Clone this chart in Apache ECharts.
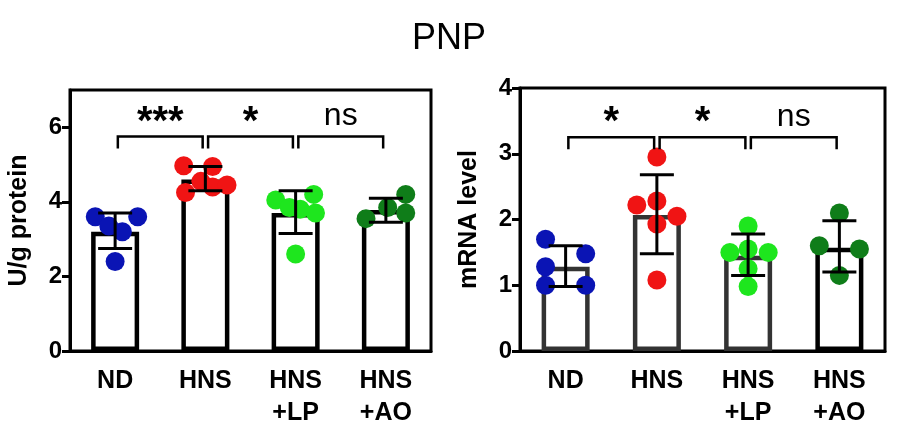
<!DOCTYPE html>
<html><head><meta charset="utf-8">
<script src="https://cdn.jsdelivr.net/npm/echarts@6/dist/echarts.min.js"></script>
<style>html,body{margin:0;background:#fff}#c{width:898px;height:442px}</style>
</head><body><div id="c"></div>
<script>
var categories = ['ND', 'HNS', 'HNS\n+LP', 'HNS\n+AO'];
var colors = ['#0a14b4', '#f01414', '#1ee61e', '#0f7d19'];

// left: U/g protein
var leftMean = [3.2, 4.6, 3.7, 3.78];
var leftErr = [[2.75, 3.7], [4.3, 4.95], [3.15, 4.3], [3.45, 4.1]];
var leftPts = [
  [[-0.22, 3.6], [-0.07, 3.35], [0.08, 3.2], [0.25, 3.6], [0, 2.4]],
  [[-0.22, 4.25], [-0.24, 4.97], [-0.05, 4.55], [0.08, 4.95], [0.08, 4.4], [0.24, 4.45]],
  [[-0.22, 4.05], [-0.07, 3.85], [0.2, 4.2], [0.22, 3.7], [0.05, 3.8], [0, 2.6]],
  [[-0.22, 3.55], [0.02, 3.85], [0.22, 4.2], [0.22, 3.7]]
];
var leftSig = [[0, 1, 5.75, '***'], [1, 2, 5.75, '*'], [2, 3, 5.75, 'ns']];

// right: mRNA level
var rightMean = [1.28, 2.07, 1.45, 1.57];
var rightErr = [[0.98, 1.6], [1.48, 2.68], [1.15, 1.78], [1.2, 1.98]];
var rightPts = [
  [[-0.22, 1.7], [-0.22, 1.28], [-0.22, 1.0], [0.22, 1.48], [0.22, 1.0]],
  [[-0.22, 2.22], [0, 2.28], [0, 1.93], [0.22, 2.05], [0, 2.95], [0, 1.08]],
  [[-0.2, 1.5], [0, 1.9], [0, 1.55], [0, 1.25], [0, 0.98], [0.22, 1.5]],
  [[-0.22, 1.6], [0, 2.1], [0.22, 1.55], [0, 1.15]]
];
var rightSig = [[0, 1, 3.25, '*'], [1, 2, 3.25, '*'], [2, 3, 3.25, 'ns']];

var bold = {fontFamily: 'Liberation Sans', fontWeight: 'bold', color: '#000'};

function errSeries(err, gi) {
  return {
    type: 'custom', xAxisIndex: gi * 2 + 1, yAxisIndex: gi, z: 10,
    data: err.map(function (e, i) { return [i, e[0], e[1]]; }),
    renderItem: function (p, api) {
      var lo = api.coord([api.value(0), api.value(1)]);
      var hi = api.coord([api.value(0), api.value(2)]);
      var w = 17;
      var st = {stroke: '#000', lineWidth: 3};
      return {type: 'group', children: [
        {type: 'line', shape: {x1: lo[0], y1: lo[1], x2: hi[0], y2: hi[1]}, style: st},
        {type: 'line', shape: {x1: lo[0] - w, y1: lo[1], x2: lo[0] + w, y2: lo[1]}, style: st},
        {type: 'line', shape: {x1: hi[0] - w, y1: hi[1], x2: hi[0] + w, y2: hi[1]}, style: st}
      ]};
    }
  };
}

function sigSeries(sig, gi) {
  return {
    type: 'custom', xAxisIndex: gi * 2 + 1, yAxisIndex: gi, z: 10,
    data: sig,
    renderItem: function (p, api) {
      var a = api.coord([api.value(0) + 0.03, api.value(2)]);
      var b = api.coord([api.value(1) - 0.03, api.value(2)]);
      var st = {stroke: '#000', lineWidth: 2.5, fill: null};
      var lab = sig[p.dataIndex][3];
      return {type: 'group', children: [
        {type: 'polyline', shape: {points: [[a[0], a[1] + 12], [a[0], a[1]], [b[0], b[1]], [b[0], b[1] + 12]]}, style: st},
        {type: 'text', x: (a[0] + b[0]) / 2, y: lab === 'ns' ? a[1] - 4 : a[1] + 6, style: {
          text: lab, align: 'center', verticalAlign: 'bottom',
          font: lab === 'ns' ? '32px Liberation Sans' : 'bold 40px Liberation Sans', fill: '#000'}}
      ]};
    }
  };
}

function ptsSeries(pts, gi) {
  return pts.map(function (g, i) {
    return {
      type: 'scatter', xAxisIndex: gi * 2 + 1, yAxisIndex: gi, z: 5, symbolSize: 19,
      itemStyle: {color: colors[i], opacity: 1},
      data: g.map(function (p) { return [i + p[0], p[1]]; })
    };
  });
}

function barSeries(mean, gi, bc) {
  return {
    type: 'bar', xAxisIndex: gi * 2, yAxisIndex: gi, barWidth: 48, z: 2,
    data: mean.map(function (v, i) {
      return {value: v, itemStyle: {color: '#fff', borderColor: bc[i], borderWidth: 4.5}};
    })
  };
}

function xAxes(gi) {
  return [
    {type: 'category', gridIndex: gi, data: categories,
     axisLine: {lineStyle: {color: '#000', width: 3}}, axisTick: {alignWithLabel: true, length: 8, lineStyle: {width: 3}},
     axisLabel: Object.assign({fontSize: 25, lineHeight: 32, margin: 14}, bold)},
    {type: 'value', gridIndex: gi, min: -0.5, max: 3.5, show: false}
  ];
}

function yAxis(gi, max, interval, name) {
  return {type: 'value', gridIndex: gi, min: 0, max: max, interval: interval, splitLine: {show: false},
    axisLine: {show: true, onZero: false, lineStyle: {color: '#000', width: 3}},
    axisTick: {show: true, length: 8, lineStyle: {width: 3}},
    axisLabel: Object.assign({fontSize: 24, margin: 8, showMaxLabel: max % interval === 0}, bold),
    name: name, nameLocation: 'middle', nameGap: 38, nameTextStyle: Object.assign({fontSize: 25}, bold)};
}

var chart = echarts.init(document.getElementById('c'));
chart.setOption({
  animation: false,
  title: {text: 'PNP', left: 'center', top: 16, textStyle: {fontFamily: 'Liberation Sans', fontWeight: 'normal', fontSize: 36, color: '#000'}},
  grid: [
    {left: 70, width: 361, top: 90, height: 261, show: true, borderColor: '#000', borderWidth: 3},
    {left: 520, width: 365, top: 88, height: 263, show: true, borderColor: '#000', borderWidth: 3}
  ],
  xAxis: xAxes(0).concat(xAxes(1)),
  yAxis: [
    yAxis(0, 7, 2, 'U/g protein'),
    yAxis(1, 4, 1, 'mRNA level')
  ],
  series: [
    barSeries(leftMean, 0, ['#000', '#000', '#000', '#000']),
    barSeries(rightMean, 1, ['#333', '#333', '#333', '#000']),
    errSeries(leftErr, 0), errSeries(rightErr, 1),
    sigSeries(leftSig, 0), sigSeries(rightSig, 1)
  ].concat(ptsSeries(leftPts, 0), ptsSeries(rightPts, 1))
});
</script></body></html>
